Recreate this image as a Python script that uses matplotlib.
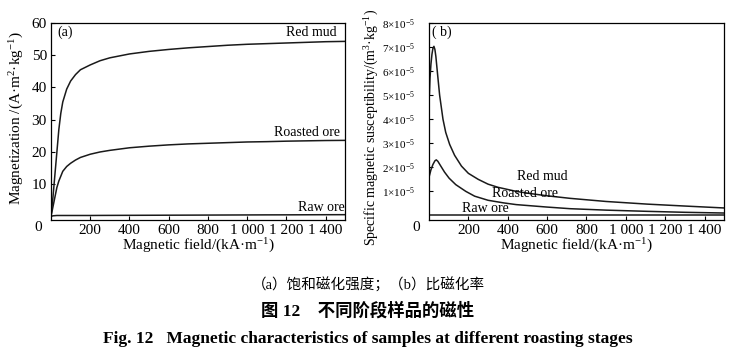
import matplotlib
matplotlib.use("Agg")
import matplotlib.pyplot as plt

plt.rcParams['font.family'] = ['Liberation Serif', 'Noto Sans CJK SC', 'DejaVu Serif']
plt.rcParams['mathtext.fontset'] = 'custom'
plt.rcParams['mathtext.rm'] = 'Liberation Serif'
plt.rcParams['mathtext.it'] = 'Liberation Serif:italic'
plt.rcParams['mathtext.bf'] = 'Liberation Serif:bold'

# ---- Panel (a): magnetization ----
field_a = [0, 10, 20, 30, 40, 50, 60, 80, 100, 125, 150, 200, 250, 300, 400, 500,
           600, 700, 800, 900, 1000, 1100, 1200, 1300, 1400, 1500]
redmud_a = [0, 6, 13, 20, 27, 32, 35.5, 39.5, 42, 44, 45.5, 47, 48.3, 49.2, 50.4, 51.2,
            51.8, 52.3, 52.7, 53.1, 53.4, 53.6, 53.8, 54.0, 54.2, 54.3]
roasted_a = [0, 3, 6, 9, 11, 12.5, 14, 15.5, 16.5, 17.5, 18.3, 19.3, 20.0, 20.5, 21.3, 21.8,
             22.2, 22.5, 22.7, 22.9, 23.1, 23.2, 23.35, 23.45, 23.55, 23.6]
raw_a = [0, 0.2, 0.25, 0.3, 0.3, 0.3, 0.3, 0.3, 0.3, 0.3, 0.3, 0.3, 0.32, 0.33, 0.35, 0.37,
         0.39, 0.41, 0.43, 0.45, 0.47, 0.49, 0.5, 0.52, 0.54, 0.55]

# ---- Panel (b): specific susceptibility (x1e-5) ----
field_b_red = [2, 5, 10, 15, 20, 25, 30, 35, 42, 54, 71, 85, 105, 130, 165, 200, 250,
               300, 350, 443, 505, 596, 717, 900, 1109, 1300, 1500]
redmud_b = [5.0, 5.7, 6.3, 6.7, 6.95, 7.03, 6.9, 6.6, 6.0, 5.0, 4.0, 3.45, 2.95, 2.5,
            2.05, 1.75, 1.5, 1.3, 1.17, 1.0, 0.92, 0.82, 0.71, 0.58, 0.47, 0.39, 0.31]
field_b_roast = [2, 10, 20, 30, 37, 45, 60, 79, 102, 136, 187, 232, 300, 380, 443, 596,
                 717, 900, 1109, 1300, 1500]
roasted_b = [1.65, 1.9, 2.12, 2.27, 2.31, 2.25, 2.05, 1.8, 1.55, 1.28, 1.0, 0.8, 0.63,
             0.52, 0.45, 0.35, 0.28, 0.22, 0.17, 0.13, 0.10]
field_b_raw = [2, 1500]
raw_b = [0.0, 0.0]

xticks = [200, 400, 600, 800, 1000, 1200, 1400]
xticklabels = ['200', '400', '600', '800', '1 000', '1 200', '1 400']
yticks_a = [10, 20, 30, 40, 50, 60]
yticks_b = [1, 2, 3, 4, 5, 6, 7, 8]

W, H = 754, 356
fig = plt.figure(figsize=(W / 100, H / 100), dpi=100)

def rect(x0, x1, y0, y1):
    return [x0 / W, 1 - y1 / H, (x1 - x0) / W, (y1 - y0) / H]

ax1 = fig.add_axes(rect(51, 345.3, 23, 220))
ax2 = fig.add_axes(rect(429, 724.3, 23, 220))

lw = 1.1
fs_tick = 11
fs_lab = 11
fs_ann = 10

for ax in (ax1, ax2):
    ax.set_xlim(0, 1500)
    ax.set_xticks(xticks)
    ax.set_xticklabels(xticklabels)
    ax.tick_params(direction='in', length=3, width=0.8, labelsize=fs_tick, pad=3)
    for s in ax.spines.values():
        s.set_linewidth(0.9)
    ax.set_xlabel('Magnetic field/(kA·m$^{-1}$)', fontsize=fs_lab, labelpad=0)

# (a)
ax1.plot(field_a, redmud_a, color='#1a1a1a', lw=lw)
ax1.plot(field_a, roasted_a, color='#1a1a1a', lw=lw)
ax1.plot(field_a, raw_a, color='#1a1a1a', lw=lw)
ax1.set_ylim(-1.1, 60)
ax1.set_yticks(yticks_a)
ax1.set_ylabel('Magnetization /(A·m$^{2}$·kg$^{-1}$)', fontsize=fs_lab)
ax1.yaxis.set_label_coords(-0.085, 0.515)
ax1.text(-0.03, -0.04, '0', transform=ax1.transAxes, ha='right', va='center', fontsize=fs_tick)
ax1.text(32, 57.2, '(a)', ha='left', va='center', fontsize=fs_ann)
ax1.text(1456, 56.9, 'Red mud', ha='right', va='center', fontsize=fs_ann)
ax1.text(1472, 26.0, 'Roasted ore', ha='right', va='center', fontsize=fs_ann)
ax1.text(1497, 2.7, 'Raw ore', ha='right', va='center', fontsize=fs_ann)

# (b)
sc = 1e-5
ax2.plot(field_b_red, [v * sc for v in redmud_b], color='#1a1a1a', lw=lw)
ax2.plot(field_b_roast, [v * sc for v in roasted_b], color='#1a1a1a', lw=lw)
ax2.plot(field_b_raw, [v * sc for v in raw_b], color='#1a1a1a', lw=lw)
ax2.set_ylim(-0.19e-5, 8e-5)
ax2.set_yticks([v * sc for v in yticks_b])
ax2.set_yticklabels([r'$%d{\times}10^{-5}$' % v for v in yticks_b])
ax2.tick_params(axis='y', labelsize=8, pad=10)
ax2.set_ylabel('Specific magnetic susceptibility/(m$^{3}$·kg$^{-1}$)', fontsize=10)
ax2.yaxis.set_label_coords(-0.162, 0.47)
ax2.text(-0.03, -0.04, '0', transform=ax2.transAxes, ha='right', va='center', fontsize=fs_tick)
ax2.text(13, 7.6e-5, '( b)', ha='left', va='center', fontsize=fs_ann)
ax2.text(447, 1.61e-5, 'Red mud', ha='left', va='center', fontsize=fs_ann)
ax2.text(319, 0.9e-5, 'Roasted ore', ha='left', va='center', fontsize=fs_ann)
ax2.text(166, 0.28e-5, 'Raw ore', ha='left', va='center', fontsize=fs_ann)

# captions
cx = 368 / W
fig.text(cx, 1 - 285 / H, '（a）饱和磁化强度；（b）比磁化率', ha='center', va='center', fontsize=10.5)
fig.text(cx, 1 - 311 / H, '图 12    不同阶段样品的磁性', ha='center', va='center',
         fontsize=12.5, fontweight='bold')
fig.text(cx, 1 - 339 / H,
         'Fig. 12   Magnetic characteristics of samples at different roasting stages',
         ha='center', va='center', fontsize=12.5, fontweight='bold')

fig.savefig('out.png', dpi=100)
